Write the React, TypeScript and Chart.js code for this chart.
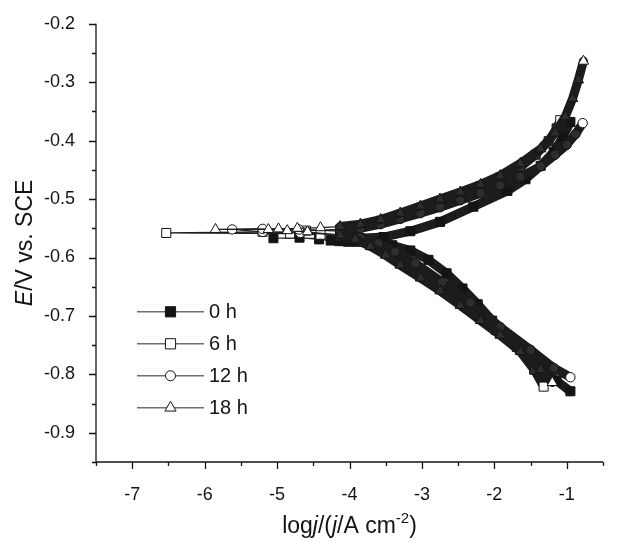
import React, { useEffect, useRef } from 'react';
import { Chart, registerables } from 'chart.js';

Chart.register(...registerables);

type Pt = [number, number]; // [log j, E / V vs. SCE]

// Axis limits
const xLimits: [number, number] = [-7.5, -0.5];
const yLimits: [number, number] = [-0.95, -0.2];
const xStep = 0.5;
const yStep = 0.05;

// Immersion times
const seriesLabels = ['0 h', '6 h', '12 h', '18 h'];

// Cathodic branches, listed from the far cathodic end towards Ecorr
const cathodic0h: Pt[] = [
  [-0.95, -0.829], [-1.14, -0.811], [-1.36, -0.788], [-1.58, -0.762], [-1.8, -0.735],
  [-2.03, -0.708], [-2.23, -0.68], [-2.44, -0.653], [-2.66, -0.627], [-2.91, -0.604],
  [-3.16, -0.588], [-3.41, -0.579], [-3.64, -0.574], [-3.9, -0.573], [-4.02, -0.573],
  [-4.14, -0.572], [-4.26, -0.571], [-4.42, -0.569], [-4.69, -0.566], [-5.05, -0.567],
];
const cathodic6h: Pt[] = [
  [-1.32, -0.821], [-1.45, -0.792], [-1.69, -0.753], [-1.98, -0.724], [-2.19, -0.703],
  [-2.47, -0.677], [-2.75, -0.654], [-3.02, -0.632], [-3.3, -0.61], [-3.5, -0.593],
  [-3.71, -0.579], [-3.92, -0.569], [-4.13, -0.564], [-4.4, -0.561], [-4.82, -0.559],
  [-6.53, -0.558],
];
const cathodic12h: Pt[] = [
  [-0.95, -0.805], [-1.18, -0.789], [-1.5, -0.758], [-1.92, -0.719], [-2.33, -0.677],
  [-2.72, -0.642], [-3.09, -0.61], [-3.37, -0.59], [-3.6, -0.576], [-3.85, -0.566],
  [-4.13, -0.561], [-4.68, -0.558], [-5.2, -0.556], [-5.62, -0.552],
];
const cathodic18h: Pt[] = [
  [-1.2, -0.814], [-1.36, -0.792], [-1.64, -0.761], [-1.92, -0.733], [-2.19, -0.708],
  [-2.47, -0.682], [-2.75, -0.657], [-3.02, -0.635], [-3.3, -0.613], [-3.5, -0.596],
  [-3.71, -0.581], [-3.92, -0.569], [-4.13, -0.562], [-4.58, -0.556], [-4.86, -0.554],
  [-5.12, -0.552], [-5.85, -0.552],
];

// Anodic branches, listed from Ecorr towards the far anodic end
const anodic0h: Pt[] = [
  [-3.85, -0.567], [-3.53, -0.565], [-3.16, -0.555], [-2.75, -0.539], [-2.29, -0.513],
  [-1.82, -0.486], [-1.57, -0.466], [-1.36, -0.443], [-1.18, -0.419], [-1.05, -0.393],
  [-0.95, -0.368],
];
const anodic6h: Pt[] = [
  [-5.2, -0.556], [-4.6, -0.554], [-4.13, -0.552], [-3.85, -0.546], [-3.57, -0.537],
  [-3.3, -0.527], [-3.02, -0.515], [-2.75, -0.504], [-2.47, -0.492], [-2.19, -0.478],
  [-1.92, -0.463], [-1.64, -0.445], [-1.43, -0.424], [-1.25, -0.401], [-1.14, -0.379],
  [-1.09, -0.365],
];
const anodic12h: Pt[] = [
  [-5.2, -0.551], [-4.7, -0.552], [-4.13, -0.555], [-3.85, -0.55], [-3.57, -0.543],
  [-3.3, -0.534], [-3.02, -0.524], [-2.75, -0.514], [-2.47, -0.502], [-2.19, -0.49],
  [-1.92, -0.477], [-1.64, -0.462], [-1.36, -0.444], [-1.16, -0.424], [-1.0, -0.407],
  [-0.88, -0.389], [-0.78, -0.37],
];
const anodic18h: Pt[] = [
  [-4.98, -0.551], [-4.72, -0.55], [-4.4, -0.549], [-4.13, -0.547], [-3.85, -0.543],
  [-3.57, -0.535], [-3.3, -0.524], [-3.02, -0.512], [-2.75, -0.5], [-2.47, -0.488],
  [-2.19, -0.475], [-1.92, -0.46], [-1.64, -0.439], [-1.36, -0.414], [-1.16, -0.387],
  [-1.02, -0.359], [-0.92, -0.328], [-0.84, -0.296], [-0.77, -0.264],
];

// Beyond this log j the recorded points sit so close together they merge into a band
const BAND_FROM = -4.25;
const BAND_WIDTH = 9;

const FONT = "'Liberation Sans', Arial, Helvetica, sans-serif";
const INK = '#141414';

type Marker = 'rect' | 'circle' | 'triangle';
interface SeriesStyle { marker: Marker; filled: boolean; radius: number; }
const styles: SeriesStyle[] = [
  { marker: 'rect', filled: true, radius: 6.4 },
  { marker: 'rect', filled: false, radius: 6.4 },
  { marker: 'circle', filled: false, radius: 4.7 },
  { marker: 'triangle', filled: false, radius: 6 },
];

const curves: Pt[][] = [
  [...cathodic0h, ...anodic0h],
  [...cathodic6h, ...anodic6h],
  [...cathodic12h, ...anodic12h],
  [...cathodic18h, ...anodic18h],
];

const isMajor = (v: number, step: number) => Math.abs(v / step - Math.round(v / step)) < 1e-6;

function drawMarker(ctx: CanvasRenderingContext2D, m: Marker, x: number, y: number, r: number, filled: boolean) {
  ctx.beginPath();
  if (m === 'rect') {
    const s = r * Math.SQRT1_2;
    ctx.rect(x - s, y - s, 2 * s, 2 * s);
  } else if (m === 'circle') {
    ctx.arc(x, y, r, 0, Math.PI * 2);
  } else {
    const h = r * 1.5;
    const w = r * Math.sqrt(3);
    ctx.moveTo(x, y - r);
    ctx.lineTo(x + w / 2, y - r + h);
    ctx.lineTo(x - w / 2, y - r + h);
    ctx.closePath();
  }
  ctx.fillStyle = filled ? INK : '#ffffff';
  ctx.fill();
  ctx.lineWidth = 1;
  ctx.strokeStyle = INK;
  ctx.stroke();
}

const axesPlugin = {
  id: 'axesFrame',
  afterDatasetsDraw(chart: any) {
    const { ctx, chartArea: a, scales } = chart;
    const x = scales.x;
    const y = scales.y;
    ctx.save();
    ctx.strokeStyle = INK;
    ctx.lineWidth = 1.3;
    ctx.beginPath();
    ctx.moveTo(a.left, a.top);
    ctx.lineTo(a.left, a.bottom);
    ctx.lineTo(a.right, a.bottom);
    ctx.stroke();
    ctx.beginPath();
    x.ticks.forEach((t: any) => {
      const px = Math.round(x.getPixelForValue(t.value)) + 0.5;
      const len = isMajor(t.value, 1) ? 7 : 4;
      ctx.moveTo(px, a.bottom);
      ctx.lineTo(px, a.bottom + len);
    });
    y.ticks.forEach((t: any) => {
      const py = Math.round(y.getPixelForValue(t.value)) + 0.5;
      const len = isMajor(t.value, 0.1) ? 7 : 4;
      ctx.moveTo(a.left, py);
      ctx.lineTo(a.left - len, py);
    });
    ctx.stroke();
    ctx.restore();
  },
};

type Run = { text: string; italic?: boolean; sup?: boolean };

function drawRuns(ctx: CanvasRenderingContext2D, runs: Run[], size: number, cx: number, baseline: number) {
  const fontFor = (r: Run) => `${r.italic ? 'italic ' : ''}${r.sup ? Math.round(size * 0.66) : size}px ${FONT}`;
  let total = 0;
  runs.forEach((r) => {
    ctx.font = fontFor(r);
    total += ctx.measureText(r.text).width;
  });
  let x = cx - total / 2;
  runs.forEach((r) => {
    ctx.font = fontFor(r);
    ctx.fillText(r.text, x, r.sup ? baseline - size * 0.42 : baseline);
    x += ctx.measureText(r.text).width;
  });
}

const titlesPlugin = {
  id: 'axisTitles',
  afterDraw(chart: any) {
    const { ctx, chartArea: a } = chart;
    ctx.save();
    ctx.fillStyle = INK;
    ctx.textBaseline = 'alphabetic';
    ctx.textAlign = 'left';
    const xRuns: Run[] = [
      { text: 'log' }, { text: 'j', italic: true }, { text: '/(' }, { text: 'j', italic: true },
      { text: '/A cm' }, { text: '-2', sup: true }, { text: ')' },
    ];
    drawRuns(ctx, xRuns, 23, (a.left + a.right) / 2, a.bottom + 71);
    ctx.translate(a.left - 72, (a.top + a.bottom) / 2);
    ctx.rotate(-Math.PI / 2);
    const yRuns: Run[] = [{ text: 'E', italic: true }, { text: '/V vs. SCE' }];
    drawRuns(ctx, yRuns, 23, 0, 8.3);
    ctx.restore();
  },
};

const legendPlugin = {
  id: 'timeLegend',
  afterDraw(chart: any) {
    const { ctx, chartArea: a } = chart;
    ctx.save();
    const x0 = a.left + 41;
    const x1 = a.left + 108;
    const xm = (x0 + x1) / 2;
    seriesLabels.forEach((label, i) => {
      const yy = a.top + 288 + i * 32;
      ctx.strokeStyle = '#6e6e6e';
      ctx.lineWidth = 1.5;
      ctx.beginPath();
      ctx.moveTo(x0, yy);
      ctx.lineTo(x1, yy);
      ctx.stroke();
      const st = styles[i];
      drawMarker(ctx, st.marker, xm, yy, st.marker === 'circle' ? 5 : st.marker === 'rect' ? 7.2 : 6.5, st.filled);
      ctx.fillStyle = INK;
      ctx.font = `20px ${FONT}`;
      ctx.textBaseline = 'middle';
      ctx.textAlign = 'left';
      ctx.fillText(label, x1 + 5, yy + 1);
    });
    ctx.restore();
  },
};

export default function App() {
  const canvasRef = useRef<HTMLCanvasElement | null>(null);

  useEffect(() => {
    const canvas = canvasRef.current;
    if (!canvas) return;

    const datasets = curves.map((pts, i) => {
      const st = styles[i];
      const last = pts.length - 1;
      const inBand = (k: number) => pts[k][0] > BAND_FROM;
      return {
        label: seriesLabels[i],
        data: pts.map(([x, y]) => ({ x, y })),
        showLine: true,
        order: 4 - i,
        borderColor: '#1c1c1c',
        borderWidth: 1.2,
        borderCapStyle: 'round' as const,
        borderJoinStyle: 'round' as const,
        segment: {
          borderWidth: (c: any) => (inBand(c.p0DataIndex) && inBand(c.p1DataIndex) ? BAND_WIDTH : 1.2),
        },
        pointStyle: st.marker,
        pointRadius: st.radius,
        pointBorderWidth: 1,
        pointBorderColor: INK,
        pointBackgroundColor: (c: any) => {
          if (st.filled) return INK;
          const k = c.dataIndex;
          if (k === 0 || k === last || !inBand(k)) return '#ffffff';
          return '#2e2e2e';
        },
      };
    });

    const chart = new Chart(canvas, {
      type: 'scatter',
      data: { datasets },
      options: {
        animation: false,
        responsive: false,
        devicePixelRatio: 1,
        events: [],
        layout: { padding: { left: 0, top: 19, right: 40, bottom: 0 } },
        plugins: { legend: { display: false }, tooltip: { enabled: false } },
        scales: {
          x: {
            type: 'linear',
            min: xLimits[0],
            max: xLimits[1],
            grid: { display: false },
            border: { display: false },
            ticks: {
              stepSize: xStep,
              autoSkip: false,
              maxRotation: 0,
              padding: 14,
              color: INK,
              font: { family: FONT, size: 18 },
              callback: (v: any) => (isMajor(Number(v), 1) ? String(Math.round(Number(v))) : ''),
            },
            afterFit: (s: any) => { s.height = 81; },
          },
          y: {
            type: 'linear',
            min: yLimits[0],
            max: yLimits[1],
            grid: { display: false },
            border: { display: false },
            ticks: {
              stepSize: yStep,
              autoSkip: false,
              padding: 13,
              color: INK,
              font: { family: FONT, size: 18 },
              callback: (v: any) => (isMajor(Number(v), 0.1) ? Number(v).toFixed(1) : ''),
            },
            afterFit: (s: any) => { s.width = 96; },
          },
        },
      },
      plugins: [axesPlugin, titlesPlugin, legendPlugin],
    } as any);

    return () => chart.destroy();
  }, []);

  return (
    <div style={{ position: 'fixed', left: 0, top: 0, width: 643, height: 543, background: '#ffffff' }}>
      <canvas ref={canvasRef} width={643} height={543} style={{ display: 'block', width: 643, height: 543 }} />
    </div>
  );
}
